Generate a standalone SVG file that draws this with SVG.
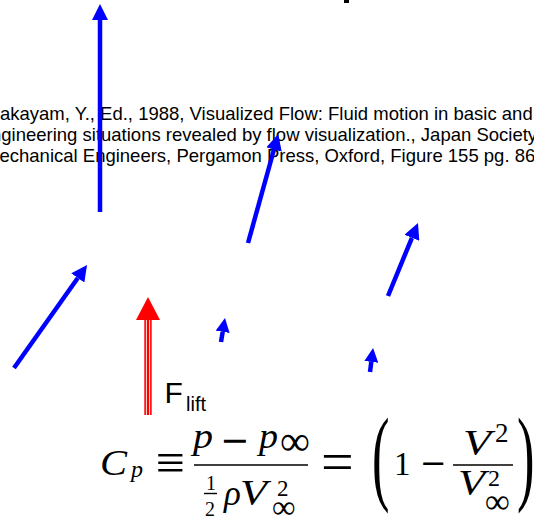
<svg xmlns="http://www.w3.org/2000/svg" width="534" height="518" viewBox="0 0 534 518">
<style>
.ref{font-family:"Liberation Sans",Arial,sans-serif;font-size:18.5px;fill:#000}
.lbl{font-family:"Liberation Sans",Arial,sans-serif;fill:#000}
.m{font-family:"Liberation Serif","DejaVu Serif",serif;fill:#000}
.o{font-family:"DejaVu Sans",sans-serif;fill:#000}
.i{font-style:italic}
.flow{stroke:#0000ff;stroke-width:4.5;fill:none}
.bar{stroke:#000;stroke-width:1.4}
</style>
<defs>
<marker id="hb" markerUnits="userSpaceOnUse" markerWidth="16" markerHeight="16" refX="0" refY="8" orient="auto" viewBox="0 0 16 16"><path d="M0,0 L16,8 L0,16 z" fill="#0000ff"/></marker>
<marker id="hs" markerUnits="userSpaceOnUse" markerWidth="14" markerHeight="14" refX="0" refY="7" orient="auto" viewBox="0 0 14 14"><path d="M0,0 L14,7 L0,14 z" fill="#0000ff"/></marker>
</defs>
<rect id="title-fragment" x="344" y="0" width="5" height="3" fill="#000"/>
<g id="reference">
<text class="ref" x="0" y="120">akayam, Y., Ed., 1988, Visualized Flow: Fluid motion in basic and</text>
<text class="ref" x="-9" y="141">ngineering situations revealed by flow visualization., Japan Society</text>
<text class="ref" x="-0.5" y="162">echanical Engineers, Pergamon Press, Oxford, Figure 155 pg. 86</text>
</g>
<g id="connectors">
<line class="flow" x1="100" y1="212" x2="100" y2="20" marker-end="url(#hb)"/>
<line class="flow" x1="248" y1="243" x2="274" y2="149.5" marker-end="url(#hb)"/>
<line class="flow" x1="14" y1="368" x2="77.8" y2="278" marker-end="url(#hb)"/>
<line class="flow" x1="388" y1="296" x2="411.9" y2="237.8" marker-end="url(#hb)"/>
<line class="flow" x1="221" y1="342" x2="222.7" y2="331.8" marker-end="url(#hs)"/>
<line class="flow" x1="370" y1="372" x2="371.3" y2="361.9" marker-end="url(#hs)"/>
</g>
<g id="lift">
<rect x="144.3" y="319" width="7.4" height="96" fill="#ff0000"/>
<line x1="146.4" y1="319" x2="146.4" y2="415" stroke="#fff" stroke-width="0.9"/>
<line x1="149.6" y1="319" x2="149.6" y2="415" stroke="#fff" stroke-width="0.9"/>
<polygon points="148,297 160,320 136,320" fill="#ff0000"/>
<text class="lbl" x="164.5" y="403" font-size="30">F</text>
<text class="lbl" x="186" y="411" font-size="20">lift</text>
</g>
<g id="equation">
<text class="m i" x="100" y="475" font-size="35" textLength="27" lengthAdjust="spacingAndGlyphs">C</text>
<text class="m i" x="131" y="477" font-size="24">p</text>
<text class="m" x="155.5" y="480" font-size="52">≡</text>
<text class="m i" x="193" y="448" font-size="35" textLength="20" lengthAdjust="spacingAndGlyphs">p</text>
<text class="o" x="220" y="452" font-size="35">−</text>
<text class="m i" x="259" y="448" font-size="35" textLength="19" lengthAdjust="spacingAndGlyphs">p</text>
<text class="m" x="280" y="455" font-size="42">∞</text>
<line class="bar" x1="194" y1="465" x2="308" y2="465"/>
<text class="m" x="206" y="490" font-size="20">1</text>
<line class="bar" x1="204" y1="493.5" x2="217" y2="493.5" stroke-width="1"/>
<text class="m" x="205" y="516" font-size="20">2</text>
<text class="m i" x="224" y="505" font-size="35">ρ</text>
<text class="m i" x="240" y="505" font-size="36" textLength="27" lengthAdjust="spacingAndGlyphs">V</text>
<text class="m" x="277" y="496" font-size="23">2</text>
<text class="m" x="272" y="518" font-size="33">∞</text>
<text class="m" x="321" y="481" font-size="58">=</text>
<text class="m" transform="translate(372,491) scale(0.5,1)" font-size="105">(</text>
<text class="m" x="394" y="475" font-size="33">1</text>
<text class="o" x="420" y="474" font-size="32">−</text>
<line class="bar" x1="453" y1="465" x2="513" y2="465"/>
<text class="m i" x="463" y="455" font-size="36" textLength="28" lengthAdjust="spacingAndGlyphs">V</text>
<text class="m" x="495" y="442" font-size="27">2</text>
<text class="m i" x="458" y="495" font-size="36" textLength="27" lengthAdjust="spacingAndGlyphs">V</text>
<text class="m" x="488" y="486" font-size="24">2</text>
<text class="m" x="485" y="513" font-size="35">∞</text>
<text class="m" transform="translate(517,491) scale(0.5,1)" font-size="105">)</text>
</g>
</svg>
